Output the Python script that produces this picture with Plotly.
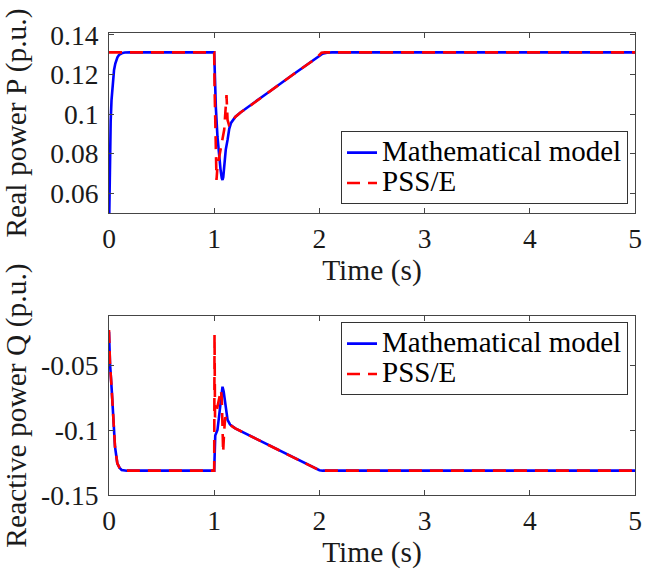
import plotly.graph_objects as go

# ---------------- data ----------------
time_ticks = [0, 1, 2, 3, 4, 5]
time_tick_text = ["0", "1", "2", "3", "4", "5"]

p_ticks = [0.06, 0.08, 0.1, 0.12, 0.14]
p_tick_text = ["0.06", "0.08", "0.1", "0.12", "0.14"]
q_ticks = [-0.15, -0.1, -0.05]
q_tick_text = ["-0.15", "-0.1", "-0.05"]

series_names = ["Mathematical model", "PSS/E"]

# Real power P - mathematical model
p_model_t = [0, 0.004, 0.008, 0.016, 0.024, 0.032, 0.04, 0.048, 0.06, 0.07, 0.08, 0.095, 0.11, 0.13,
             0.15, 0.2, 1.0, 1.008, 1.016, 1.031, 1.045, 1.06, 1.072, 1.079, 1.086, 1.095, 1.11,
             1.127, 1.143, 1.16, 1.2, 1.25, 1.35, 1.5, 1.75, 1.97, 2.0, 2.03, 2.07, 2.12, 5.0]
p_model_v = [0.04, 0.058, 0.073, 0.0965, 0.107, 0.114, 0.1185, 0.1223, 0.1255, 0.1273, 0.1287, 0.1299,
             0.1305, 0.1309, 0.1311, 0.1312, 0.1312, 0.115, 0.103, 0.0885, 0.079, 0.072, 0.0675, 0.0666,
             0.068, 0.074, 0.082, 0.0869, 0.0925, 0.0955, 0.0985, 0.1008, 0.1045, 0.1104, 0.1200,
             0.1285, 0.1296, 0.1305, 0.1310, 0.1312, 0.1312]

# Real power P - PSS/E
p_psse_t = [0, 1.0, 1.003, 1.008, 1.014, 1.019, 1.022, 1.031, 1.064, 1.095, 1.117, 1.127, 1.14,
            1.16, 1.2, 1.25, 1.35, 1.5, 1.75, 1.97, 2.0, 2.02, 2.05, 5.0]
p_psse_v = [0.1312, 0.1312, 0.115, 0.104, 0.09, 0.075, 0.0666, 0.0734, 0.0835, 0.092, 0.1096, 0.097,
            0.0945, 0.0955, 0.0985, 0.1008, 0.1045, 0.1104, 0.1200, 0.1282, 0.1300, 0.1310, 0.1312,
            0.1312]

# Reactive power Q - mathematical model
q_model_t = [0, 0.0095, 0.026, 0.041, 0.057, 0.079, 0.1, 0.12, 0.17, 1.0, 1.003, 1.01, 1.031, 1.05,
             1.065, 1.079, 1.09, 1.105, 1.127, 1.15, 1.174, 1.2, 1.4, 1.6, 1.8, 1.9, 1.95, 1.98, 2.0,
             2.03, 5.0]
q_model_v = [-0.0238, -0.0482, -0.0689, -0.092, -0.1127, -0.1255, -0.129, -0.1307, -0.1312, -0.1312,
             -0.112, -0.104, -0.0998, -0.087, -0.076, -0.0663, -0.07, -0.081, -0.092, -0.0955,
             -0.0972, -0.0985, -0.1067, -0.1149, -0.1231, -0.1272, -0.1292, -0.1303, -0.1309,
             -0.1312, -0.1312]

# Reactive power Q - PSS/E
q_psse_t = [0, 0.0095, 0.026, 0.041, 0.057, 0.079, 0.1, 0.12, 0.17, 1.0, 1.003, 1.008, 1.015, 1.03,
            1.05, 1.064, 1.072, 1.078, 1.085, 1.095, 1.105, 1.127, 1.15, 1.174, 1.2, 1.4, 1.6, 1.8,
            1.9, 1.95, 1.98, 2.0, 2.03, 5.0]
q_psse_v = [-0.0225, -0.0482, -0.0689, -0.092, -0.1127, -0.1255, -0.129, -0.1307, -0.1312, -0.1312,
            -0.026, -0.09, -0.088, -0.082, -0.074, -0.069, -0.075, -0.095, -0.117, -0.1, -0.09,
            -0.092, -0.0955, -0.0972, -0.0985, -0.1067, -0.1149, -0.1231, -0.1272, -0.1292, -0.1303,
            -0.1309, -0.1312, -0.1312]

# ---------------- figure ----------------
FONT = "Liberation Serif, Times New Roman, serif"
TXT = "#1a1a1a"
AX = "#454545"
FS_TICK = 27.5
FS_TITLE = 29.5
FS_LEG_TEXT = 29
FS_LEG_ROW = 21  # controls legend row spacing


def leg_name(s):
    return f"<span style='font-size:{FS_LEG_TEXT}px'>{s}</span>"


fig = go.Figure()
fig.add_trace(go.Scatter(x=p_model_t, y=p_model_v, mode="lines", name=leg_name(series_names[0]),
                         line=dict(color="#0000ff", width=2.6), xaxis="x", yaxis="y", legend="legend"))
fig.add_trace(go.Scatter(x=p_psse_t, y=p_psse_v, mode="lines", name=leg_name(series_names[1]),
                         line=dict(color="#ff0000", width=2.6, dash="13px,8px"), xaxis="x", yaxis="y",
                         legend="legend"))
fig.add_trace(go.Scatter(x=q_model_t, y=q_model_v, mode="lines", name=leg_name(series_names[0]),
                         line=dict(color="#0000ff", width=2.6), xaxis="x2", yaxis="y2", legend="legend2"))
fig.add_trace(go.Scatter(x=q_psse_t, y=q_psse_v, mode="lines", name=leg_name(series_names[1]),
                         line=dict(color="#ff0000", width=2.6, dash="13px,8px"), xaxis="x2", yaxis="y2",
                         legend="legend2"))

axis_common = dict(showline=True, linecolor=AX, linewidth=1.2, mirror="allticks", ticks="inside",
                   ticklen=5, tickcolor=AX, tickwidth=1.2, showgrid=False, zeroline=False,
                   automargin=False, tickfont=dict(family=FONT, size=FS_TICK, color=TXT))

xa = dict(axis_common, range=[0, 5], tickvals=time_ticks, ticktext=time_tick_text,
          ticklabelstandoff=1,
          title=dict(text="Time (s)", font=dict(family=FONT, size=FS_TITLE, color=TXT), standoff=6))

leg_common = dict(xanchor="right", yanchor="middle", bgcolor="white", bordercolor="#333333",
                  borderwidth=1, font=dict(family=FONT, size=FS_LEG_ROW, color="black"),
                  tracegroupgap=0)

fig.update_layout(
    width=645, height=575,
    margin=dict(l=109, r=10, t=33, b=80),
    paper_bgcolor="white", plot_bgcolor="white",
    xaxis=dict(xa, domain=[0, 1], anchor="y"),
    yaxis=dict(axis_common, domain=[0.6104, 1], anchor="x", range=[0.0499, 0.141],
               tickvals=p_ticks, ticktext=p_tick_text, ticklabelstandoff=4,
               title=dict(text="Real power P (p.u.)", font=dict(family=FONT, size=FS_TITLE, color=TXT),
                          standoff=14)),
    xaxis2=dict(xa, domain=[0, 1], anchor="y2"),
    yaxis2=dict(axis_common, domain=[0, 0.3874], anchor="x2", range=[-0.15, -0.0117],
                tickvals=q_ticks, ticktext=q_tick_text, ticklabelstandoff=4,
                title=dict(text="Reactive power Q (p.u.)", font=dict(family=FONT, size=FS_TITLE, color=TXT),
                           standoff=5)),
    legend=dict(leg_common, x=0.9867, y=0.7078),
    legend2=dict(leg_common, x=0.9867, y=0.2944),
    showlegend=True,
)

fig.write_html("out.html", config={"displayModeBar": False},
               post_script="document.body.style.margin='0';document.body.style.overflow='hidden';")
